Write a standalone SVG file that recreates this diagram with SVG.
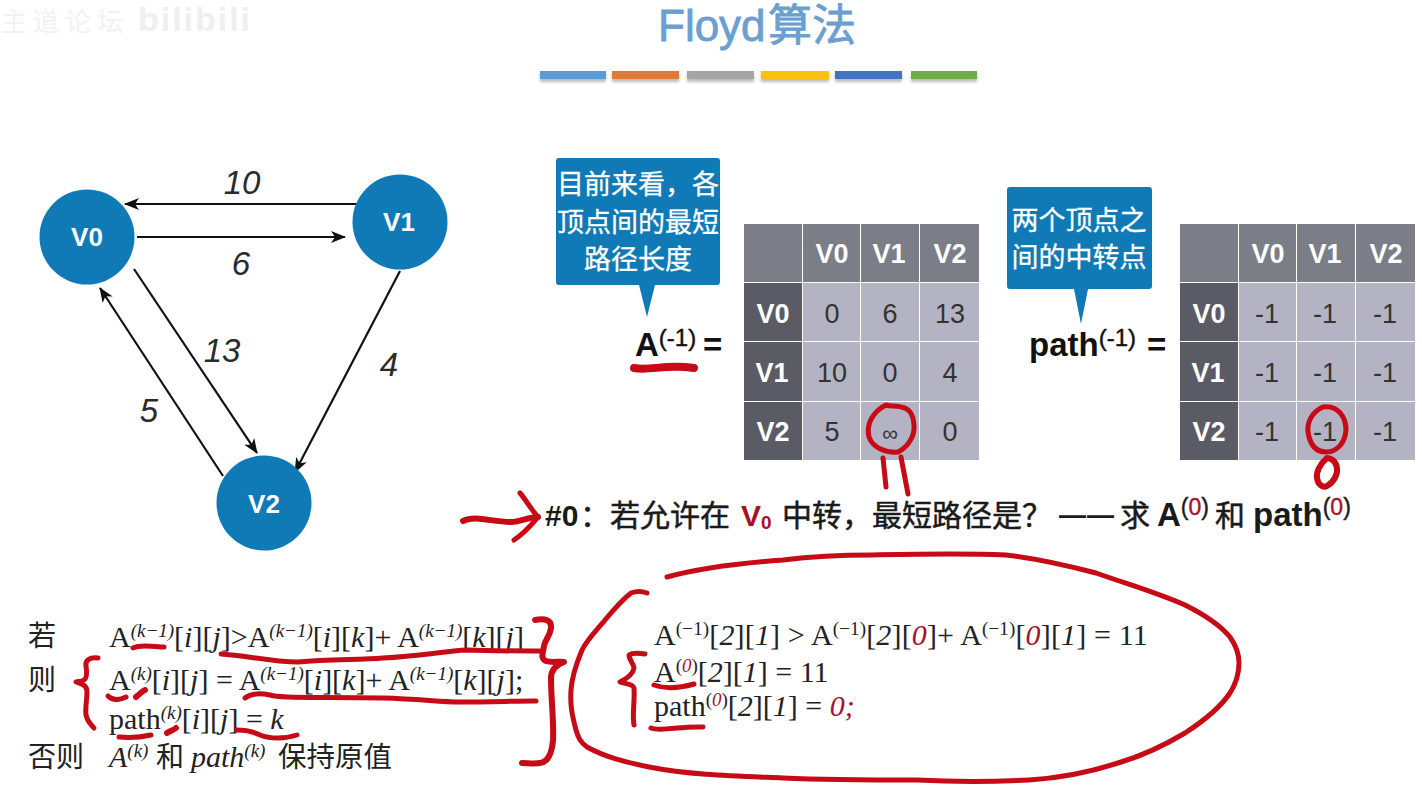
<svg xmlns="http://www.w3.org/2000/svg" width="1422" height="785" viewBox="0 0 1422 785">
<style>
text{font-family:"Liberation Sans","Noto Sans CJK SC",sans-serif}
.node{fill:#0f7ab5}
.nt{fill:#fff;font-size:26px;font-weight:bold;text-anchor:middle}
.w{fill:#2a2a2a;font-size:33px;font-style:italic;text-anchor:middle}
.edge{stroke:#111;stroke-width:2.2;fill:none;marker-end:url(#a)}
.h{fill:#7b7e87}.d{fill:#5a5b64}.c{fill:#b4b3c3}
.th{fill:#fff;font-size:27px;font-weight:bold;text-anchor:middle}
.td{fill:#333;font-size:27px;text-anchor:middle}
.call{fill:#0f7ab5}
.ct{fill:#fff;font-size:27px;text-anchor:middle;stroke:#fff;stroke-width:.3}
.eq{fill:#111;font-size:33px;font-weight:bold}
.eqs{font-size:24px;font-weight:normal;stroke:#111;stroke-width:.4}
.m{font-family:"Liberation Serif","Noto Sans CJK SC",serif;font-size:30px;fill:#222}
.cn{font-family:"Noto Sans CJK SC",sans-serif;font-size:28px;fill:#222}
.sup{font-size:19px}
.i{font-style:italic}
.r{fill:#a8112a}
.st{font-size:33px;fill:#1a1a1a;font-weight:bold}
.ss{font-size:23px;font-weight:normal;stroke:#1a1a1a;stroke-width:.4}
.sc{font-family:"Noto Sans CJK SC",sans-serif;font-size:30px;fill:#1a1a1a;stroke:#1a1a1a;stroke-width:.5}
.ink{fill:none;stroke:#c60a16;stroke-width:5;stroke-linecap:round;stroke-linejoin:round}
</style>
<defs>
<marker id="a" markerWidth="16" markerHeight="12" refX="14" refY="6" orient="auto" markerUnits="userSpaceOnUse"><path d="M0 0L15 6L0 12L4 6Z" fill="#111"/></marker>
<filter id="b" x="-5%" y="-30%" width="110%" height="180%"><feGaussianBlur stdDeviation="1.5"/></filter>
</defs>
<rect width="1422" height="785" fill="#fff"/>
<text x="1" y="31" font-size="26" letter-spacing="6" fill="#f2f2f2" style="font-family:'Noto Sans CJK SC',sans-serif">主道论坛</text>
<text x="138" y="31" font-size="34" font-weight="bold" fill="#efefef" textLength="112">bilibili</text>
<text id="title" x="658" y="41" font-size="44" fill="#6a9fd0" stroke="#6a9fd0" stroke-width=".8">Floyd<tspan x="768">算法</tspan></text>
<g id="title-bars">
<rect x="540" y="73" width="66" height="9" fill="#bbb" filter="url(#b)"/><rect x="612" y="73" width="67" height="9" fill="#bbb" filter="url(#b)"/><rect x="687" y="73" width="67" height="9" fill="#bbb" filter="url(#b)"/><rect x="761" y="73" width="68" height="9" fill="#bbb" filter="url(#b)"/><rect x="835" y="73" width="67" height="9" fill="#bbb" filter="url(#b)"/><rect x="911" y="73" width="66" height="9" fill="#bbb" filter="url(#b)"/>
<rect x="540" y="71" width="66" height="8" fill="#5b9bd5"/><rect x="612" y="71" width="67" height="8" fill="#e27a36"/><rect x="687" y="71" width="67" height="8" fill="#a5a5a5"/><rect x="761" y="71" width="68" height="8" fill="#fdc010"/><rect x="835" y="71" width="67" height="8" fill="#4472c4"/><rect x="911" y="71" width="66" height="8" fill="#70ad47"/>
</g>
<g id="connectors">
<path class="edge" d="M359 204H125"/>
<path class="edge" d="M137 237H345"/>
<path class="edge" d="M134 269L257 453"/>
<path class="edge" d="M400 271L295 472"/>
<path class="edge" d="M223 476L100 288"/>
</g>
<g id="edge-labels">
<text class="w" x="242" y="194">10</text><text class="w" x="241" y="275">6</text><text class="w" x="222" y="362">13</text><text class="w" x="389" y="376">4</text><text class="w" x="149" y="422">5</text>
</g>
<g id="V0"><circle class="node" cx="87" cy="237" r="47.500"/><text class="nt" x="87" y="246">V0</text></g>
<g id="V1"><circle class="node" cx="400" cy="222" r="47.500"/><text class="nt" x="399" y="231">V1</text></g>
<g id="V2"><circle class="node" cx="264" cy="503" r="47.500"/><text class="nt" x="264" y="513">V2</text></g>
<g id="callout-a">
<path class="call" d="M559 158H717Q720 158 720 161V282Q720 285 717 285H655L647 317L639 285H559Q556 285 556 282V161Q556 158 559 158Z"/>
<text class="ct" x="638" y="194">目前来看，各</text><text class="ct" x="638" y="232">顶点间的最短</text><text class="ct" x="638" y="269">路径长度</text>
</g>
<g id="callout-path">
<path class="call" d="M1010 187H1149Q1152 187 1152 190V286Q1152 289 1149 289H1088L1081 324L1074 289H1010Q1007 289 1007 286V190Q1007 187 1010 187Z"/>
<text class="ct" x="1079" y="230">两个顶点之</text><text class="ct" x="1079" y="267">间的中转点</text>
</g>
<text class="eq" x="635" y="356">A<tspan class="eqs" dy="-10">(-1)</tspan><tspan x="703" dy="10">=</tspan></text>
<text class="eq" x="1029" y="356">path<tspan class="eqs" dy="-10">(-1)</tspan><tspan x="1147" dy="10">=</tspan></text>
<g id="table-a">
<rect class="h" x="744" y="224" width="58" height="58"/><rect class="h" x="803" y="224" width="57" height="58"/><rect class="h" x="861" y="224" width="58" height="58"/><rect class="h" x="920" y="224" width="59" height="58"/>
<rect class="d" x="744" y="283" width="58" height="58"/><rect class="c" x="803" y="283" width="57" height="58"/><rect class="c" x="861" y="283" width="58" height="58"/><rect class="c" x="920" y="283" width="59" height="58"/>
<rect class="d" x="744" y="342" width="58" height="59"/><rect class="c" x="803" y="342" width="57" height="59"/><rect class="c" x="861" y="342" width="58" height="59"/><rect class="c" x="920" y="342" width="59" height="59"/>
<rect class="d" x="744" y="402" width="58" height="58"/><rect class="c" x="803" y="402" width="57" height="58"/><rect class="c" x="861" y="402" width="58" height="58"/><rect class="c" x="920" y="402" width="59" height="58"/>
<text class="th" x="832" y="263">V0</text><text class="th" x="889" y="263">V1</text><text class="th" x="950" y="263">V2</text>
<text class="th" x="773" y="323">V0</text><text class="td" x="832" y="323">0</text><text class="td" x="890" y="323">6</text><text class="td" x="950" y="323">13</text>
<text class="th" x="772" y="382">V1</text><text class="td" x="832" y="382">10</text><text class="td" x="890" y="382">0</text><text class="td" x="950" y="382">4</text>
<text class="th" x="773" y="441">V2</text><text class="td" x="832" y="441">5</text><text class="td" x="890" y="441" style="font-size:22px">∞</text><text class="td" x="950" y="441">0</text>
</g>
<g id="table-path">
<rect class="h" x="1180" y="224" width="58" height="58"/><rect class="h" x="1239" y="224" width="57" height="58"/><rect class="h" x="1297" y="224" width="58" height="58"/><rect class="h" x="1356" y="224" width="59" height="58"/>
<rect class="d" x="1180" y="283" width="58" height="58"/><rect class="c" x="1239" y="283" width="57" height="58"/><rect class="c" x="1297" y="283" width="58" height="58"/><rect class="c" x="1356" y="283" width="59" height="58"/>
<rect class="d" x="1180" y="342" width="58" height="59"/><rect class="c" x="1239" y="342" width="57" height="59"/><rect class="c" x="1297" y="342" width="58" height="59"/><rect class="c" x="1356" y="342" width="59" height="59"/>
<rect class="d" x="1180" y="402" width="58" height="58"/><rect class="c" x="1239" y="402" width="57" height="58"/><rect class="c" x="1297" y="402" width="58" height="58"/><rect class="c" x="1356" y="402" width="59" height="58"/>
<text class="th" x="1268" y="263">V0</text><text class="th" x="1325" y="263">V1</text><text class="th" x="1386" y="263">V2</text>
<text class="th" x="1209" y="323">V0</text><text class="td" x="1267" y="323">-1</text><text class="td" x="1325" y="323">-1</text><text class="td" x="1385" y="323">-1</text>
<text class="th" x="1208" y="382">V1</text><text class="td" x="1267" y="382">-1</text><text class="td" x="1325" y="382">-1</text><text class="td" x="1385" y="382">-1</text>
<text class="th" x="1209" y="441">V2</text><text class="td" x="1267" y="441">-1</text><text class="td" x="1325" y="441">-1</text><text class="td" x="1385" y="441">-1</text>
</g>
<g id="step">
<text class="st" x="545" y="526" style="font-size:30px">#0</text>
<text class="sc" x="580" y="526">：若允许在</text>
<text class="st" x="741" y="526" style="fill:#a8112a;font-size:30px">V<tspan font-size="19" dy="3">0</tspan></text>
<text class="sc" x="782" y="526">中转，最短路径是？</text>
<text class="st" x="1059" y="524" style="font-size:27px">—</text><text class="st" x="1087" y="524" style="font-size:27px">—</text>
<text class="sc" x="1120" y="526">求</text>
<text class="st" x="1157" y="526">A<tspan class="ss" dy="-11">(<tspan style="fill:#a8112a;stroke:#a8112a">0</tspan>)</tspan></text>
<text class="sc" x="1215" y="526">和</text>
<text class="st" x="1253" y="526">path<tspan class="ss" dy="-11">(<tspan style="fill:#a8112a;stroke:#a8112a">0</tspan>)</tspan></text>
</g>
<g id="rule">
<text class="cn" x="28" y="646">若</text><text class="cn" x="28" y="690">则</text><text class="cn" x="28" y="767">否则</text>
<text class="m" x="109" y="647">A<tspan class="sup i" dy="-10">(k−1)</tspan><tspan dy="10">[<tspan class="i">i</tspan>][<tspan class="i">j</tspan>]&gt;A</tspan><tspan class="sup i" dy="-10">(k−1)</tspan><tspan dy="10">[<tspan class="i">i</tspan>][<tspan class="i">k</tspan>]+ A</tspan><tspan class="sup i" dy="-10">(k−1)</tspan><tspan dy="10">[<tspan class="i">k</tspan>][<tspan class="i">j</tspan>]</tspan></text>
<text class="m" x="109" y="690">A<tspan class="sup i" dy="-10">(k)</tspan><tspan dy="10">[<tspan class="i">i</tspan>][<tspan class="i">j</tspan>] = A</tspan><tspan class="sup i" dy="-10">(k−1)</tspan><tspan dy="10">[<tspan class="i">i</tspan>][<tspan class="i">k</tspan>]+ A</tspan><tspan class="sup i" dy="-10">(k−1)</tspan><tspan dy="10">[<tspan class="i">k</tspan>][<tspan class="i">j</tspan>];</tspan></text>
<text class="m" x="109" y="729">path<tspan class="sup i" dy="-10">(k)</tspan><tspan dy="10">[<tspan class="i">i</tspan>][<tspan class="i">j</tspan>] = <tspan class="i">k</tspan></tspan></text>
<text class="m" x="109" y="767"><tspan class="i">A</tspan><tspan class="sup i" dy="-10">(k)</tspan></text>
<text class="cn" x="156" y="767">和</text>
<text class="m" x="191" y="767"><tspan class="i">path</tspan><tspan class="sup i" dy="-10">(k)</tspan></text>
<text class="cn" x="278" y="767" style="font-size:28.500px">保持原值</text>
</g>
<g id="example">
<text class="m" x="654" y="645" letter-spacing=".15">A<tspan class="sup" dy="-10">(−1)</tspan><tspan dy="10">[<tspan class="i">2</tspan>][<tspan class="i">1</tspan>] &gt; A</tspan><tspan class="sup" dy="-10">(−1)</tspan><tspan dy="10">[<tspan class="i">2</tspan>][<tspan class="i r">0</tspan>]+ A</tspan><tspan class="sup" dy="-10">(−1)</tspan><tspan dy="10">[<tspan class="i r">0</tspan>][<tspan class="i">1</tspan>] = 11</tspan></text>
<text class="m" x="654" y="682">A<tspan class="sup" dy="-10">(<tspan class="i r">0</tspan>)</tspan><tspan dy="10">[<tspan class="i">2</tspan>][<tspan class="i">1</tspan>] = 11</tspan></text>
<text class="m" x="654" y="716">path<tspan class="sup" dy="-10">(<tspan class="i r">0</tspan>)</tspan><tspan dy="10">[<tspan class="i">2</tspan>][<tspan class="i">1</tspan>] = <tspan class="i r">0;</tspan></tspan></text>
</g>
<g id="ink">
<path class="ink" style="stroke-width:8" d="M634 368C650 371 665 364 694 368"/>
<path class="ink" d="M883 458L886 487M901 457L908 494"/>
<path class="ink" d="M886 405C872 412 866 425 869 437C873 448 886 453 898 452C908 447 915 436 914 425C913 412 908 408 901 407C895 405 890 407 886 405Z"/>
<path class="ink" d="M1323 407C1312 412 1307 422 1308 432C1310 445 1316 452 1326 452C1338 452 1345 442 1346 430C1346 417 1338 405 1323 407Z"/>
<path class="ink" style="stroke-width:6" d="M1327 458C1320 464 1316 472 1317 478C1318 485 1323 488 1327 486C1334 482 1338 474 1337 468C1336 461 1331 458 1327 458Z"/>
<path class="ink" style="stroke-width:6" d="M463 521C475 515 492 522 511 522C520 522 528 517 538 517"/>
<path class="ink" d="M520 493C526 500 530 508 538 517C532 524 526 532 514 540"/>
<path class="ink" d="M133 648C141 644 155 647 164 647"/>
<path class="ink" d="M221 654C245 655 270 662 298 662C330 659 360 660 383 658C420 656 445 651 467 650C490 651 520 651 543 651"/>
<path class="ink" style="stroke-width:6" d="M535 620C545 618 552 620 551 628C550 636 545 640 544 646C543 654 540 658 546 661C552 663 558 661 564 662C556 665 551 670 551 678C551 700 554 720 553 740C552 752 548 762 540 763C534 764 528 763 522 763"/>
<path class="ink" d="M98 658C90 657 85 660 86 666C87 672 87 678 84 680C81 682 78 681 76 682C82 684 87 685 87 692C87 700 85 708 86 715C87 720 90 724 94 728"/>
<path class="ink" d="M108 696C112 700 118 701 126 697"/>
<path class="ink" style="stroke-width:6" d="M136 697C140 694 142 691 145 690"/>
<path class="ink" d="M245 698C250 694 260 693 270 695C280 698 300 697 383 698C420 699 440 702 459 702C490 702 515 701 536 701"/>
<path class="ink" d="M119 737C130 738 142 737 151 735"/>
<path class="ink" style="stroke-width:6" d="M167 733C170 731 174 730 176 728"/>
<path class="ink" d="M237 730C245 730 252 731 260 735C270 739 285 739 297 735"/>
<path class="ink" d="M667 577C700 568 740 563 783 560C815 556 840 555 872 555C920 554 960 553 1006 555C1040 559 1065 565 1096 573C1130 585 1155 592 1185 605C1205 615 1220 625 1230 637C1237 647 1239 655 1239 663C1239 675 1235 685 1230 693C1220 708 1205 720 1185 733C1165 745 1145 755 1118 763C1090 772 1060 778 1029 780C990 782 955 782 917 780C870 780 830 780 783 778C735 776 690 775 649 767C625 762 605 757 587 747C580 742 578 737 576 730C572 715 570 705 571 690C572 675 577 662 582 650C588 638 597 630 605 620C615 608 622 600 631 593C636 591 642 591 647 593"/>
<path class="ink" d="M645 654C638 653 632 653 629 655C629 660 634 664 634 668C633 675 626 679 620 682C626 684 633 684 634 688C635 700 632 715 634 725"/>
<path class="ink" d="M654 685C665 689 680 688 694 684"/>
<path class="ink" d="M651 728C660 732 680 726 703 727"/>
</g>
</svg>
